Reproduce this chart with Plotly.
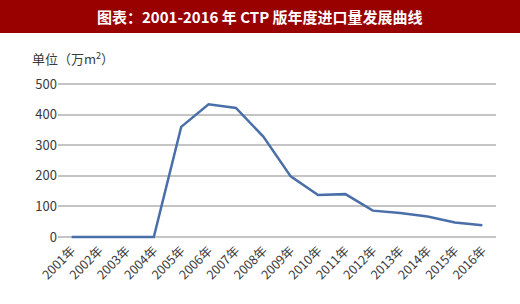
import plotly.graph_objects as go

years = [f"{y}年" for y in range(2001, 2017)]
values = [0, 0, 0, 0, 360, 434, 422, 328, 198, 137, 140, 86, 78, 67, 47, 38]
y_ticks = [0, 100, 200, 300, 400, 500]

W, H = 520, 304
ml, mr, mt, mb = 58, 24, 81, 64
pw = W - ml - mr
ph = H - mt - mb

def px_x(x):
    return (x - ml) / pw

def px_y(y):
    return (H - mb - y) / ph

fig = go.Figure()
fig.add_trace(go.Scatter(
    x=years, y=values, mode="lines",
    line=dict(color="#4a6fa8", width=2.5),
    hoverinfo="skip", showlegend=False,
))

fig.update_layout(
    width=W, height=H,
    margin=dict(l=ml, r=mr, t=mt, b=mb),
    paper_bgcolor="white", plot_bgcolor="white",
    font=dict(family="Noto Sans CJK SC, Noto Sans, sans-serif", color="#404040"),
    xaxis=dict(
        type="category", range=[-0.5, 15.5], tickangle=-45,
        showgrid=False, showline=False, zeroline=False, ticks="",
        tickfont=dict(size=12.5, color="#3a3a3a"),
    ),
    yaxis=dict(
        range=[-10, 510], tickvals=y_ticks, showgrid=True,
        gridcolor="#c4c4c4", gridwidth=2, zeroline=False, showline=False,
        ticks="", tickfont=dict(size=13, color="#3a3a3a"),
    ),
    shapes=[dict(
        type="rect", xref="paper", yref="paper",
        x0=px_x(0), x1=px_x(W), y0=px_y(33), y1=px_y(-1),
        fillcolor="#990000", line=dict(width=0), layer="above",
    )],
    annotations=[
        dict(text="<b>图表：2001-2016 年 CTP 版年度进口量发展曲线</b>",
             xref="paper", yref="paper", x=px_x(260), y=px_y(16),
             xanchor="center", yanchor="middle", showarrow=False,
             font=dict(size=15, color="white",
                       family="Noto Sans CJK SC, sans-serif")),
        dict(text="单位（万m<sup>2</sup>）",
             xref="paper", yref="paper", x=px_x(30), y=px_y(58),
             xanchor="left", yanchor="middle", showarrow=False,
             font=dict(size=13, color="#3a3a3a")),
    ],
)

fig.write_html("out.html")
